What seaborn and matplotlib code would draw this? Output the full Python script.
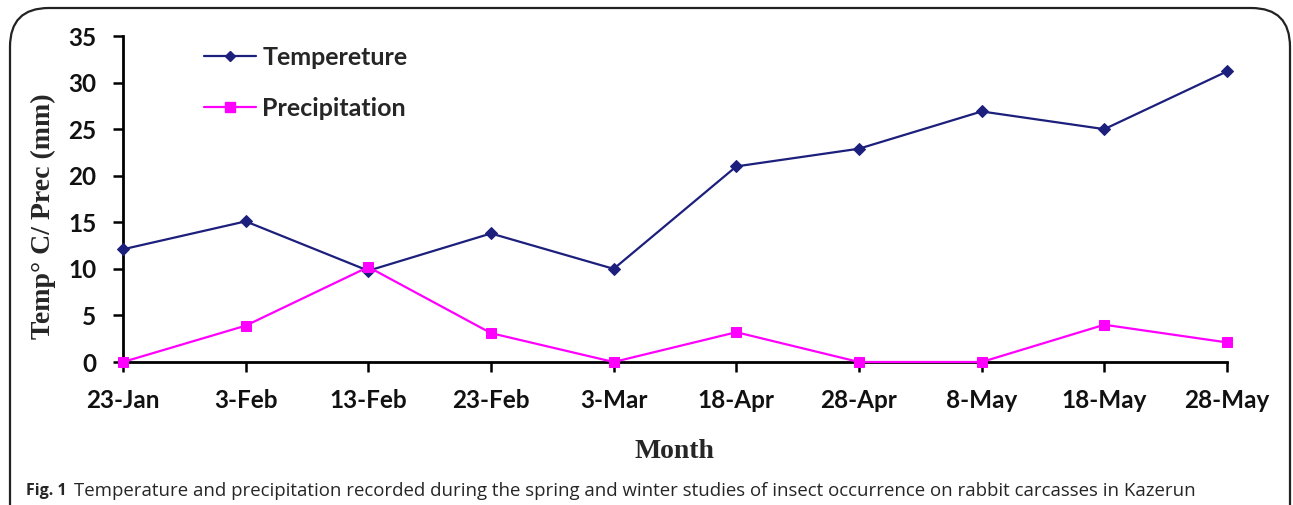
import matplotlib
matplotlib.use("Agg")
import matplotlib.pyplot as plt
import seaborn as sns
import pandas as pd
from matplotlib.patches import FancyBboxPatch
from matplotlib.lines import Line2D

dates = ["23-Jan", "3-Feb", "13-Feb", "23-Feb", "3-Mar", "18-Apr", "28-Apr", "8-May", "18-May", "28-May"]
temperature = [12.1, 15.1, 9.8, 13.8, 10.0, 21.0, 22.9, 26.9, 25.0, 31.2]
precipitation = [0.0, 3.9, 10.2, 3.1, 0.0, 3.2, 0.0, 0.0, 4.0, 2.1]
series_names = ["Tempereture", "Precipitation"]
y_ticks = [0, 5, 10, 15, 20, 25, 30, 35]

sns.set_theme(style="ticks")
plt.rcParams['font.family'] = ['Lato', 'DejaVu Sans']
plt.rcParams['xtick.bottom'] = True
plt.rcParams['ytick.left'] = True
plt.rcParams['xtick.major.size'] = 7.2
plt.rcParams['ytick.major.size'] = 7.2
plt.rcParams['xtick.major.width'] = 1.8
plt.rcParams['ytick.major.width'] = 1.8
plt.rcParams['xtick.color'] = 'black'
plt.rcParams['ytick.color'] = 'black'

W, H = 1293, 505
fig = plt.figure(figsize=(W / 100, H / 100), dpi=100)
ax = fig.add_axes([123 / W, 1 - 362 / H, (1227 - 123) / W, (362 - 36) / H])

df = pd.DataFrame({"date": dates, "temp": temperature, "prec": precipitation})
df["x"] = range(len(dates))

navy = "#1c1f7c"
mag = "#ff00ff"
sns.lineplot(data=df, x="x", y="temp", ax=ax, color=navy, lw=1.6, marker="D",
             markersize=6, markeredgecolor=navy, sort=False, clip_on=False, zorder=3)
sns.lineplot(data=df, x="x", y="prec", ax=ax, color=mag, lw=1.6, marker="s",
             markersize=7, markeredgecolor=mag, sort=False, clip_on=False, zorder=3)

ax.set_xlim(0, len(dates) - 1)
ax.set_ylim(0, 35)
ax.set_xticks(range(len(dates)))
ax.set_xticklabels(dates)
ax.set_yticks(y_ticks)
ax.set_xlabel("")
ax.set_ylabel("")
for s in ["top", "right"]:
    ax.spines[s].set_visible(False)
for s in ["left", "bottom"]:
    ax.spines[s].set_color("black")
    ax.spines[s].set_linewidth(2)
ax.tick_params(axis="both", which="major", direction="out", length=7.2, width=1.8,
               color="black", labelsize=17.5, labelcolor="#111111",
               bottom=True, left=True, top=False, right=False)
ax.tick_params(axis="x", pad=12)
ax.tick_params(axis="y", pad=12)
for t in ax.xaxis.get_major_ticks() + ax.yaxis.get_major_ticks():
    t.tick1line.set_visible(True)
    t.tick1line.set_color("black")
for lab in ax.get_xticklabels() + ax.get_yticklabels():
    lab.set_fontweight("bold")

handles = [Line2D([], [], color=navy, lw=1.6, marker="D", markersize=5),
           Line2D([], [], color=mag, lw=1.6, marker="s", markersize=7)]
fig.legend(handles, series_names, loc="upper left", bbox_to_anchor=(204 / W, 1 - 46 / H),
           frameon=False, borderpad=0, borderaxespad=0, handlelength=2.08,
           handletextpad=0.25, labelspacing=1.11,
           prop={"family": "Lato", "weight": "bold", "size": 18})

fig.text(43 / W, 1 - 216 / H, "Temp° C/ Prec (mm)", rotation=90, ha="center", va="center",
         fontsize=20, fontweight="bold", family="Liberation Serif")
fig.text(674 / W, 1 - 452 / H, "Month", ha="center", va="center",
         fontsize=20, fontweight="bold", family="Liberation Serif")

fig.text(26 / W, 1 - 491 / H, "Fig. 1", ha="left", va="center", fontsize=11.5,
         fontweight="bold", family="Open Sans")
fig.text(74 / W, 1 - 491 / H,
         "Temperature and precipitation recorded during the spring and winter studies of insect occurrence on rabbit carcasses in Kazerun",
         ha="left", va="center", fontsize=13.4, family="Open Sans")

border = FancyBboxPatch((10 / W, -0.1), (1290 - 10) / W, (1 - 8 / H) + 0.1,
                        boxstyle="round,pad=0,rounding_size=0.03", transform=fig.transFigure,
                        fill=False, edgecolor="#222222", lw=1.6, mutation_aspect=W / H)
fig.patches.append(border)

fig.savefig("out.png", dpi=100)
